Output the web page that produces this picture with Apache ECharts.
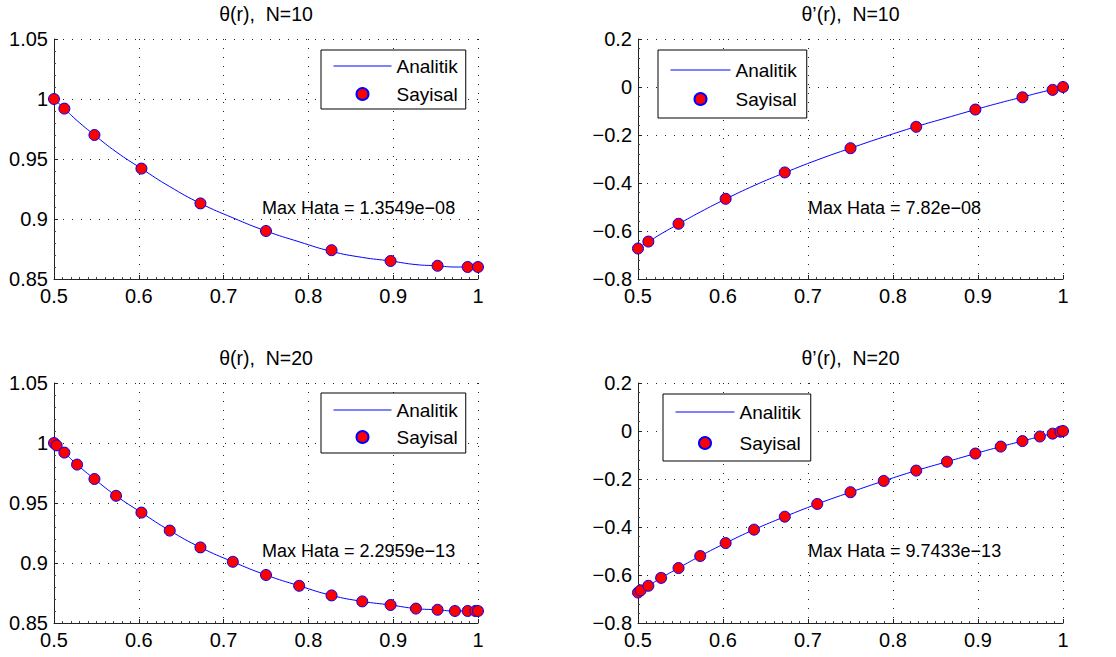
<!DOCTYPE html>
<html>
<head>
<meta charset="utf-8">
<script src="https://cdn.jsdelivr.net/npm/echarts@6/dist/echarts.min.js"></script>
<style>
html,body{margin:0;padding:0;background:#fff;}
#c{width:1116px;height:657px;}
</style>
</head>
<body>
<div id="c"></div>
<script>
// ---- data ----
const r10 = [0.5, 0.5122, 0.5477, 0.6031, 0.6727, 0.75, 0.8273, 0.8969, 0.9523, 0.9878, 1.0];
const theta10 = [1.000, 0.992, 0.970, 0.942, 0.913, 0.890, 0.874, 0.865, 0.861, 0.860, 0.860];
const dtheta10 = [-0.673, -0.644, -0.570, -0.466, -0.356, -0.255, -0.166, -0.094, -0.043, -0.012, 0.000];

const r20 = [0.5, 0.5031, 0.5122, 0.5272, 0.5477, 0.5732, 0.6031, 0.6365, 0.6727, 0.7109, 0.75,
             0.7891, 0.8273, 0.8635, 0.8969, 0.9268, 0.9523, 0.9728, 0.9878, 0.9969, 1.0];
const theta20 = [1.000, 0.998, 0.992, 0.982, 0.970, 0.956, 0.942, 0.927, 0.913, 0.901, 0.890,
                 0.881, 0.873, 0.868, 0.865, 0.862, 0.861, 0.860, 0.860, 0.860, 0.860];
const dtheta20 = [-0.673, -0.664, -0.645, -0.612, -0.571, -0.521, -0.467, -0.411, -0.357, -0.304, -0.255,
                  -0.208, -0.165, -0.128, -0.094, -0.065, -0.042, -0.023, -0.011, -0.003, 0.000];

const xTicks = {min: 0.5, max: 1.0, interval: 0.1};
const yThetaTicks = {min: 0.85, max: 1.05, interval: 0.05};
const yDThetaTicks = {min: -0.8, max: 0.2, interval: 0.2};

const panelTitles = ['θ(r),  N=10', 'θ’(r),  N=10', 'θ(r),  N=20', 'θ’(r),  N=20'];
const errorTexts = ['Max Hata = 1.3549e−08', 'Max Hata = 7.82e−08', 'Max Hata = 2.2959e−13', 'Max Hata = 9.7433e−13'];
const seriesNames = ['Analitik', 'Sayisal'];

// ---- layout ----
const FONT = "'Liberation Sans', Arial, Helvetica, sans-serif";
const grids = [
  {left: 54, top: 39, width: 424, height: 240},
  {left: 638, top: 39, width: 425, height: 240},
  {left: 54, top: 383, width: 424, height: 240},
  {left: 638, top: 383, width: 425, height: 240}
];
const panels = [
  {x: r10, y: theta10, lx: r20, ly: theta20, yt: yThetaTicks},
  {x: r10, y: dtheta10, lx: r20, ly: dtheta20, yt: yDThetaTicks},
  {x: r20, y: theta20, lx: r20, ly: theta20, yt: yThetaTicks},
  {x: r20, y: dtheta20, lx: r20, ly: dtheta20, yt: yDThetaTicks}
];
const legendPos = [
  {left: 321, top: 50, padding: [5, 8, 4, 12], itemGap: 6, itemWidth: 58},
  {left: 658, top: 50, padding: [9, 10, 8, 12], itemGap: 7, itemWidth: 60},
  {left: 321, top: 393, padding: [6, 8, 5, 12], itemGap: 5, itemWidth: 58},
  {left: 663, top: 394, padding: [7, 10, 7, 12], itemGap: 9, itemWidth: 59}
];
const errPos = [[262, 208], [808, 208], [262, 551], [808, 551]];

function fmt(v) {
  const s = String(parseFloat(Number(v).toFixed(3)));
  return s.replace('-', '\u2212');
}

function makeAxis(minorSplit, margin) {
  return {
    axisLine: {show: true, onZero: false, lineStyle: {color: '#222', width: 1}},
    axisTick: {show: true, inside: true, length: 4, lineStyle: {color: '#222'}},
    minorTick: {show: true, splitNumber: minorSplit, length: 2, lineStyle: {color: '#444'}},
    splitLine: {show: true, lineStyle: {color: '#222', width: 1, type: [1, 8]}},
    axisLabel: {color: '#000', fontSize: 20, fontFamily: FONT, formatter: fmt, margin: margin}
  };
}

const xAxes = [], yAxes = [], series = [], legends = [], graphics = [];
grids.forEach((g, i) => {
  const p = panels[i];
  xAxes.push(Object.assign({
    type: 'value', gridIndex: i, min: xTicks.min, max: xTicks.max, interval: xTicks.interval
  }, makeAxis(10, 7)));
  yAxes.push(Object.assign({
    type: 'value', gridIndex: i, min: p.yt.min, max: p.yt.max, interval: p.yt.interval
  }, makeAxis(5, 6)));
  series.push({
    name: seriesNames[0], type: 'line', xAxisIndex: i, yAxisIndex: i,
    data: p.lx.map((x, k) => [x, p.ly[k]]),
    smooth: true, symbol: 'none', showSymbol: false,
    lineStyle: {color: '#0000ff', width: 1}, itemStyle: {color: '#0000ff'},
    z: 2, animation: false
  });
  series.push({
    name: seriesNames[1], type: 'scatter', xAxisIndex: i, yAxisIndex: i,
    data: p.x.map((x, k) => [x, p.y[k]]),
    symbol: 'circle', symbolSize: 11, clip: false,
    itemStyle: {color: '#ff0000', borderColor: '#0000ff', borderWidth: 1, opacity: 1},
    z: 3, animation: false
  });
  const lp = legendPos[i];
  legends.push({
    orient: 'vertical', left: lp.left, top: lp.top, padding: lp.padding, itemGap: lp.itemGap,
    itemWidth: lp.itemWidth, itemHeight: 12,
    borderColor: '#000', borderWidth: 1, backgroundColor: '#fff',
    data: [
      {name: seriesNames[0], itemStyle: {opacity: 0}, lineStyle: {color: '#0000ff', width: 1}},
      {name: seriesNames[1]}
    ],
    selectedMode: false,
    textStyle: {color: '#000', fontSize: 19, fontFamily: FONT, lineHeight: 22}
  });
  graphics.push({
    type: 'text', x: g.left + g.width / 2, y: (i < 2 ? 14 : 358),
    style: {text: panelTitles[i], fill: '#000', font: '19.5px ' + FONT, textAlign: 'center', textVerticalAlign: 'middle'}
  });
  graphics.push({
    type: 'text', x: errPos[i][0], y: errPos[i][1],
    style: {text: errorTexts[i], fill: '#000', font: '18px ' + FONT, textAlign: 'left', textVerticalAlign: 'middle'}
  });
});

const chart = echarts.init(document.getElementById('c'), null, {renderer: 'svg'});
chart.setOption({
  animation: false,
  backgroundColor: '#fff',
  grid: grids.map(g => Object.assign({containLabel: false}, g)),
  xAxis: xAxes,
  yAxis: yAxes,
  legend: legends,
  series: series,
  graphic: graphics
});
</script>
</body>
</html>
